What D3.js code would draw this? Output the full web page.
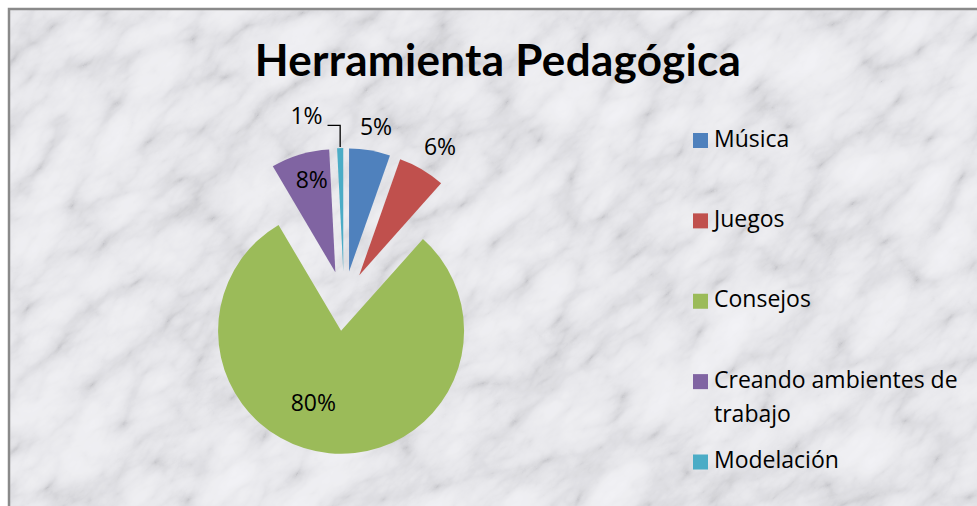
<!DOCTYPE html>
<html lang="es">
<head>
    <meta charset="UTF-8">
    <title>Herramienta Pedagógica</title>
    <style>
        body { margin: 0; background: #ffffff; }
        svg { display: block; }
        text { font-family: "Open Sans", Carlito, Calibri, sans-serif; fill: #000; }
        .title { font-family: Lato, Carlito, Calibri, sans-serif; }
    </style>
    <script src="https://cdn.jsdelivr.net/npm/d3@7"></script>
</head>
<body>
<script>
    // data
    var categories = ["Música", "Juegos", "Consejos", "Creando ambientes de trabajo", "Modelación"];
    var values = [5.4, 6.2, 80.0, 7.7, 0.8];
    var colors = ["#4F81BD", "#C0504D", "#9BBB59", "#8064A2", "#4BACC6"];

    var width = 977, height = 506;
    var cx = 344, cy = 301, radius = 123, explode = 30;

    var svg = d3.select("body").append("svg")
        .attr("width", width)
        .attr("height", height);

    // marble-ish background
    var defs = svg.append("defs");
    var f = defs.append("filter").attr("id", "marble")
        .attr("x", 0).attr("y", 0).attr("width", "100%").attr("height", "100%");
    f.append("feTurbulence")
        .attr("type", "turbulence")
        .attr("baseFrequency", "0.010 0.020")
        .attr("numOctaves", 6)
        .attr("seed", 11)
        .attr("result", "noise");
    f.append("feColorMatrix")
        .attr("type", "matrix")
        .attr("values", "0.6 0.4 0 0 0  0.6 0.4 0 0 0  0.6 0.4 0 0 0  0 0 0 0 1");
    var ct = f.append("feComponentTransfer");
    ct.append("feFuncR").attr("type", "table").attr("tableValues", "0.55 0.71 0.80 0.85 0.88 0.90 0.92");
    ct.append("feFuncG").attr("type", "table").attr("tableValues", "0.55 0.71 0.80 0.85 0.88 0.90 0.92");
    ct.append("feFuncB").attr("type", "table").attr("tableValues", "0.58 0.74 0.83 0.88 0.91 0.93 0.95");

    var clip = defs.append("clipPath").attr("id", "area");
    clip.append("rect").attr("x", 10).attr("y", 10).attr("width", width).attr("height", height);

    svg.append("g").attr("clip-path", "url(#area)")
        .append("g")
        .attr("transform", "rotate(-40 488 253)")
        .append("rect")
        .attr("x", -400).attr("y", -400)
        .attr("width", 1800).attr("height", 1400)
        .attr("filter", "url(#marble)");

    // chart border
    svg.append("rect")
        .attr("x", 9).attr("y", 9)
        .attr("width", width + 20).attr("height", height + 20)
        .attr("fill", "none")
        .attr("stroke", "#8a8a8a")
        .attr("stroke-width", 2.5);

    // title
    svg.append("text")
        .attr("class", "title")
        .attr("x", 498)
        .attr("y", 76)
        .attr("text-anchor", "middle")
        .attr("font-weight", "bold")
        .attr("font-size", 44)
        .attr("letter-spacing", 0.3)
        .text("Herramienta Pedagógica");

    var total = d3.sum(values);
    var fmt = d3.format(".0%");
    var pie = d3.pie().sort(null).value(d => d)(values);
    var arc = d3.arc().innerRadius(0).outerRadius(radius);

    function mid(d) { return (d.startAngle + d.endAngle) / 2; }

    var slices = svg.append("g").attr("transform", "translate(" + cx + "," + cy + ")");

    slices.selectAll("path")
        .data(pie)
        .join("path")
        .attr("d", arc)
        .attr("fill", (d, i) => colors[i])
        .attr("transform", d => "translate(" + (Math.sin(mid(d)) * explode) + "," + (-Math.cos(mid(d)) * explode) + ")");

    // label placement: distance from slice tip, small angle nudge (degrees)
    var labelDist = [145, 150, 79, 93, 158];
    var labelNudge = [1, 2, 15, 2, -12];

    pie.forEach(function(d, i) {
        var a = mid(d);
        var ox = Math.sin(a) * explode, oy = -Math.cos(a) * explode;
        var la = a + labelNudge[i] * Math.PI / 180;
        var lx = ox + Math.sin(la) * labelDist[i];
        var ly = oy - Math.cos(la) * labelDist[i];
        slices.append("text")
            .attr("x", lx)
            .attr("y", ly)
            .attr("text-anchor", "middle")
            .attr("dominant-baseline", "middle")
            .attr("font-size", 23)
            .text(fmt(values[i] / total));

        if (i === 4) {
            // leader line to the thin slice
            var px = ox + Math.sin(a) * radius, py = oy - Math.cos(a) * radius;
            slices.append("polyline")
                .attr("points", [[lx + 21, ly + 8], [px, ly + 8], [px, py - 1]].map(p => p.join(",")).join(" "))
                .attr("fill", "none")
                .attr("stroke", "#000")
                .attr("stroke-width", 1.3);
        }
    });

    // legend
    var legendY = d3.scalePoint().domain(categories).range([140.5, 462]);
    var legend = svg.append("g");
    categories.forEach(function(c, i) {
        var y = legendY(c);
        legend.append("rect")
            .attr("x", 693).attr("y", y - 7.5)
            .attr("width", 15).attr("height", 15)
            .attr("fill", colors[i]);
        var t = legend.append("text")
            .attr("x", 714)
            .attr("y", y)
            .attr("dominant-baseline", "middle")
            .attr("font-size", 23);
        if (c.length > 20) {
            var words = c.split(" ");
            t.append("tspan").attr("x", 714).text(words.slice(0, 3).join(" "));
            t.append("tspan").attr("x", 714).attr("dy", 34).text(words.slice(3).join(" "));
        } else {
            t.text(c);
        }
    });
</script>
</body>
</html>
